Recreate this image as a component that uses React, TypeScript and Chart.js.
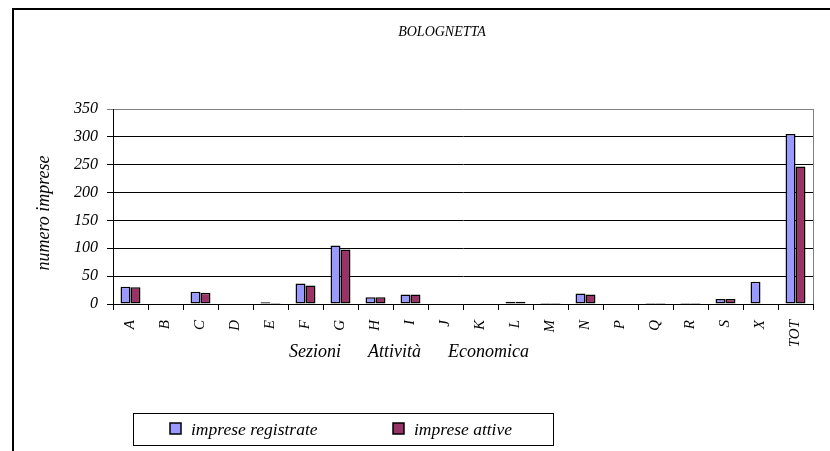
import React, { useEffect, useRef } from "react";
import { Chart, registerables } from "chart.js";

Chart.register(...registerables);

const TITLE = "BOLOGNETTA";
const CATEGORIES = ["A", "B", "C", "D", "E", "F", "G", "H", "I", "J", "K", "L", "M", "N", "P", "Q", "R", "S", "X", "TOT"];
const REGISTRATE = [31, 0, 22, 0, 3, 37, 105, 12, 17, 0, 0, 4, 2, 19, 0, 2, 2, 9, 40, 305];
const ATTIVE = [30, 0, 20, 0, 2, 33, 98, 12, 17, 0, 0, 4, 2, 17, 0, 2, 2, 9, 0, 247];
const Y_TICKS = [0, 50, 100, 150, 200, 250, 300, 350];
const SERIES_LABELS = ["imprese registrate", "imprese attive"];
const SERIES_COLORS = ["#9999FF", "#993366"];
const X_TITLE = "Sezioni      Attività      Economica";
const Y_TITLE = "numero imprese";

const FONT = "'Liberation Serif', 'Times New Roman', serif";

const decor = {
  id: "decor",
  afterDraw(chart: any) {
    const { ctx, chartArea: ca } = chart;
    ctx.save();
    // outer frame
    ctx.strokeStyle = "#000";
    ctx.lineWidth = 2;
    ctx.strokeRect(13, 9, 840, 470);
    // plot area right border
    ctx.strokeStyle = "#808080";
    ctx.lineWidth = 1;
    ctx.beginPath();
    ctx.moveTo(Math.round(ca.right) + 0.5, ca.top);
    ctx.lineTo(Math.round(ca.right) + 0.5, ca.bottom);
    ctx.stroke();
    // chart title
    ctx.fillStyle = "#000";
    ctx.textBaseline = "middle";
    ctx.textAlign = "center";
    ctx.font = `italic 14px ${FONT}`;
    ctx.fillText(TITLE, 442, 32);
    // y axis title
    ctx.save();
    ctx.translate(44, 213);
    ctx.rotate(-Math.PI / 2);
    ctx.font = `italic 18px ${FONT}`;
    ctx.fillText(Y_TITLE, 0, 0);
    ctx.restore();
    // x axis title
    ctx.textAlign = "left";
    ctx.font = `italic 18px ${FONT}`;
    ctx.fillText(X_TITLE, 289, 352);
    // legend
    ctx.strokeStyle = "#000";
    ctx.lineWidth = 1;
    ctx.strokeRect(133.5, 413.5, 420, 32);
    const itemX = [170, 393];
    chart.data.datasets.forEach((ds: any, i: number) => {
      const x = itemX[i];
      ctx.fillStyle = ds.backgroundColor;
      ctx.fillRect(x, 423, 11, 11);
      ctx.strokeStyle = "#000";
      ctx.lineWidth = 1.5;
      ctx.strokeRect(x, 423, 11, 11);
      ctx.fillStyle = "#000";
      ctx.font = `italic 17.5px ${FONT}`;
      ctx.textAlign = "left";
      ctx.fillText(ds.label, x + 21, 430);
    });
    ctx.restore();
  },
};

export default function App() {
  const ref = useRef<HTMLCanvasElement | null>(null);
  useEffect(() => {
    if (!ref.current) return;
    const chart = new Chart(ref.current, {
      type: "bar",
      data: {
        labels: CATEGORIES,
        datasets: [
          {
            label: SERIES_LABELS[0],
            data: REGISTRATE,
            backgroundColor: SERIES_COLORS[0],
            borderColor: "#000",
            borderWidth: (c: any) => (c.raw ? 1.5 : 0),
            borderSkipped: false,
            categoryPercentage: 0.57,
            barPercentage: 1.0,
          },
          {
            label: SERIES_LABELS[1],
            data: ATTIVE,
            backgroundColor: SERIES_COLORS[1],
            borderColor: "#000",
            borderWidth: (c: any) => (c.raw ? 1.5 : 0),
            borderSkipped: false,
            categoryPercentage: 0.57,
            barPercentage: 1.0,
          },
        ],
      },
      options: {
        animation: false,
        responsive: true,
        maintainAspectRatio: false,
        layout: { padding: { left: 0, right: 17, top: 109, bottom: 97 } },
        plugins: {
          legend: { display: false },
          title: { display: false },
          tooltip: { enabled: false },
        },
        scales: {
          x: {
            offset: true,
            afterFit: (s: any) => {
              s.height = 50;
            },
            grid: {
              offset: true,
              drawOnChartArea: false,
              drawTicks: true,
              tickLength: 6,
              color: "#000",
            },
            border: { display: true, color: "#000", width: 1 },
            ticks: {
              autoSkip: false,
              minRotation: 90,
              maxRotation: 90,
              padding: 10,
              color: "#000",
              font: { family: FONT, size: 15, style: "italic" },
            },
          },
          y: {
            min: 0,
            max: 350,
            afterFit: (s: any) => {
              s.width = 113;
            },
            afterBuildTicks: (s: any) => {
              s.ticks = Y_TICKS.map((v) => ({ value: v }));
            },
            grid: {
              color: (c: any) => (c.tick && c.tick.value === 350 ? "#808080" : "#000"),
              tickLength: 6,
              drawTicks: true,
            },
            border: { display: true, color: "#000", width: 1 },
            ticks: {
              padding: 9,
              color: "#000",
              font: { family: FONT, size: 16, style: "italic" },
            },
          },
        },
      },
      plugins: [decor],
    });
    return () => chart.destroy();
  }, []);
  return (
    <div style={{ position: "fixed", left: 0, top: 0, width: 830, height: 451, background: "#fff" }}>
      <canvas ref={ref} />
    </div>
  );
}
